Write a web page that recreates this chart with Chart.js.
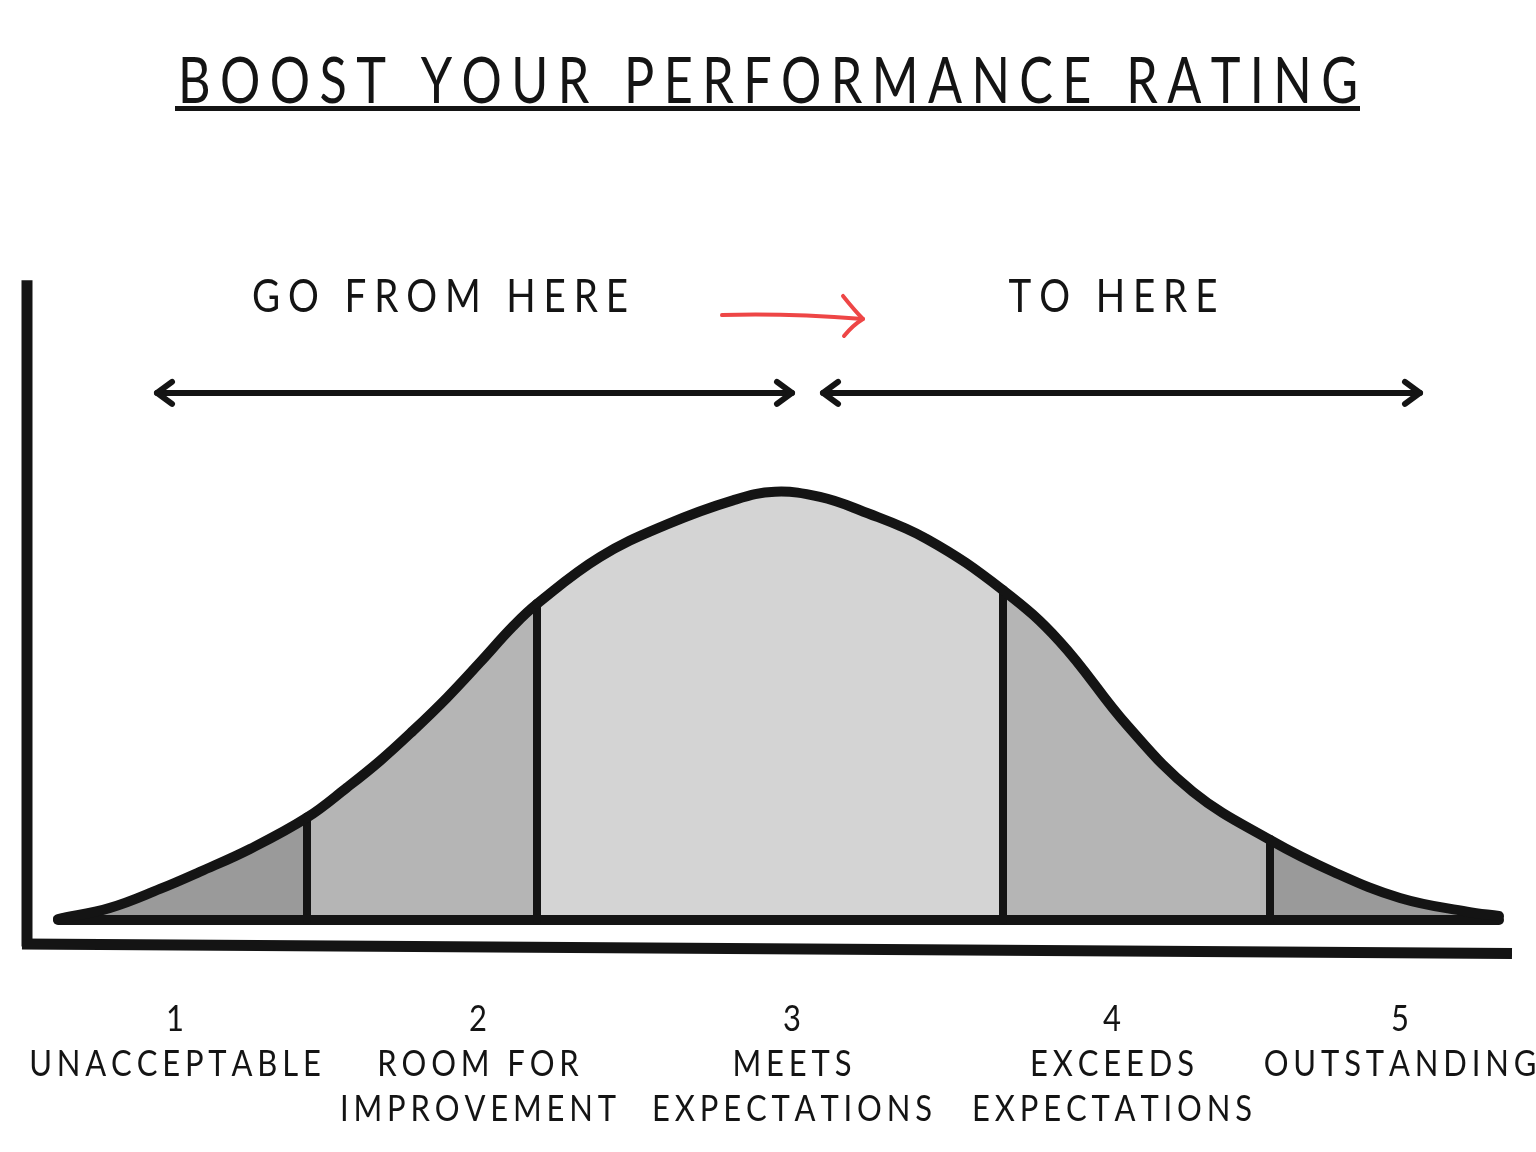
<!DOCTYPE html>
<html><head><meta charset="utf-8">
<script src="https://cdn.jsdelivr.net/npm/chart.js@4.4.1/dist/chart.umd.min.js"></script>
<style>html,body{margin:0;padding:0;background:#fff}#wrap{width:1536px;height:1152px;position:relative}</style>
</head><body><div id="wrap"><canvas id="c"></canvas></div>
<script>
// ---------- data ----------
const chartTitle = "BOOST YOUR PERFORMANCE RATING";
const categoryNumbers = ["1", "2", "3", "4", "5"];
const categoryNames = [["UNACCEPTABLE"], ["ROOM FOR", "IMPROVEMENT"], ["MEETS", "EXPECTATIONS"], ["EXCEEDS", "EXPECTATIONS"], ["OUTSTANDING"]];
const categoryPositions = [175, 478, 792, 1112, 1400];
const curveX = [58, 110, 160, 200, 250, 307, 347, 380, 413, 447, 480, 513, 537, 600, 667, 733, 775, 820, 860, 927, 1003, 1060, 1127, 1193, 1270, 1333, 1400, 1467, 1499];
const curveY = [0.2, 2.8, 7.2, 11.2, 16.5, 23.8, 30.8, 37.0, 44.0, 51.7, 59.9, 68.3, 73.5, 84.4, 92.0, 97.6, 99.6, 98.4, 95.3, 88.6, 76.7, 64.7, 45.3, 29.8, 18.6, 11.2, 5.1, 1.9, 0.9];
const dividerX = [307, 537, 1003, 1270];
const spanLabels = ["GO FROM HERE", "TO HERE"];
const spanLabelX = [440, 1113];
const spanLabelY = 145.3;
const spanStartX = [157, 823];
const spanEndX = [792, 1420];
const spanY = 122.6;
const moveArrowX = [722, 783, 863];
const moveArrowY = [140.7, 141.2, 139.8];
const yAxisX = [27, 27];
const yAxisY = [148.8, -6.2];
const xAxisX = [22, 1512];
const xAxisY = [-5.6, -7.8];

// ---------- style ----------
const INK = '#141414';
const RED = '#ee4646';
const regionColors = ['#9a9a9a', '#b5b5b5', '#d4d4d4', '#b5b5b5', '#9a9a9a'];
const FONT = 'Lato, "Open Sans", "Noto Sans", sans-serif';

const pts = (xs, ys) => xs.map((x, i) => ({x, y: ys[i]}));
const curve = pts(curveX, curveY);
const regionOf = xv => dividerX.filter(d => xv >= d).length;

const datasets = [];
datasets.push({
  data: curve, borderColor: INK, borderWidth: 10, pointRadius: 0,
  fill: 'origin', backgroundColor: regionColors[0],
  tension: 0.4, borderCapStyle: 'round', borderJoinStyle: 'round',
  segment: {backgroundColor: c => regionColors[regionOf(curveX[c.p0DataIndex])]}
});
dividerX.forEach(dx => {
  const top = curveY[curveX.indexOf(dx)];
  datasets.push({data: [{x: dx, y: 0}, {x: dx, y: top}], borderColor: INK, borderWidth: 8, pointRadius: 0, fill: false, borderCapStyle: 'round'});
});
datasets.push({data: [{x: curveX[0], y: 0}, {x: curveX[curveX.length - 1], y: 0}], borderColor: INK, borderWidth: 10, pointRadius: 0, fill: false, borderCapStyle: 'round'});
datasets.push({data: pts(yAxisX, yAxisY), borderColor: INK, borderWidth: 11, pointRadius: 0, fill: false, borderCapStyle: 'butt'});
datasets.push({data: pts(xAxisX, xAxisY), borderColor: INK, borderWidth: 11, pointRadius: 0, fill: false, borderCapStyle: 'butt'});

// text helpers
function charWidths(ctx, t, sx, spaceW) { return [...t].map(ch => ch === ' ' && spaceW != null ? spaceW : ctx.measureText(ch).width * sx); }
function fitSpacing(ctx, t, target, sx, spaceW) {
  const w = charWidths(ctx, t, sx, spaceW).reduce((a, b) => a + b, 0);
  return (target - w) / (t.length - 1);
}
function drawSpaced(ctx, t, cx, baseline, spacing, sx, spaceW) {
  const ws = charWidths(ctx, t, sx, spaceW);
  const total = ws.reduce((a, b) => a + b, 0) + spacing * (t.length - 1);
  let x = cx - total / 2;
  ctx.textAlign = 'left'; ctx.textBaseline = 'alphabetic';
  [...t].forEach((ch, i) => {
    if (ch !== ' ') { ctx.save(); ctx.translate(x, baseline); ctx.scale(sx, 1); ctx.fillText(ch, 0, 0); ctx.restore(); }
    x += ws[i] + spacing;
  });
}
function chevron(ctx, tx, ty, dir, len, half) {
  ctx.beginPath();
  ctx.moveTo(tx - dir * len, ty - half);
  ctx.lineTo(tx, ty);
  ctx.lineTo(tx - dir * len, ty + half);
  ctx.stroke();
}

const decor = {
  id: 'decor',
  afterDraw(chart) {
    const {ctx, scales: {x, y}} = chart;
    ctx.save();
    ctx.fillStyle = INK;
    // title
    ctx.font = `400 63px ${FONT}`;
    const sq1 = 0.8, spc1 = 16;
    drawSpaced(ctx, chartTitle, 768, 103, fitSpacing(ctx, chartTitle, 1180, sq1, spc1), sq1, spc1);
    ctx.fillRect(175, 106, 1185, 5);
    // span labels
    ctx.font = `400 47px ${FONT}`;
    const sq2 = 0.82;
    const sp2 = fitSpacing(ctx, spanLabels[0], 376, sq2);
    spanLabels.forEach((t, i) => drawSpaced(ctx, t, x.getPixelForValue(spanLabelX[i]), y.getPixelForValue(spanLabelY) + 17, sp2, sq2));
    // span arrows
    ctx.strokeStyle = INK; ctx.lineWidth = 6; ctx.lineCap = 'round'; ctx.lineJoin = 'round';
    const ay = y.getPixelForValue(spanY);
    for (let i = 0; i < 2; i++) {
      const a = x.getPixelForValue(spanStartX[i]), b = x.getPixelForValue(spanEndX[i]);
      ctx.beginPath(); ctx.moveTo(a, ay); ctx.lineTo(b, ay); ctx.stroke();
      chevron(ctx, a, ay, -1, 15, 11);
      chevron(ctx, b, ay, 1, 15, 11);
    }
    // move arrow (red)
    ctx.strokeStyle = RED; ctx.lineWidth = 4;
    const mx = moveArrowX.map(v => x.getPixelForValue(v));
    const my = moveArrowY.map(v => y.getPixelForValue(v));
    ctx.beginPath(); ctx.moveTo(mx[0], my[0]);
    ctx.quadraticCurveTo(mx[1], my[1], mx[2], my[2]); ctx.stroke();
    ctx.beginPath();
    ctx.moveTo(mx[2] - 20, my[2] - 23);
    ctx.quadraticCurveTo(mx[2] - 8, my[2] - 8, mx[2], my[2]);
    ctx.quadraticCurveTo(mx[2] - 10, my[2] + 6, mx[2] - 19, my[2] + 17);
    ctx.stroke();
    // category labels
    ctx.font = `400 36px ${FONT}`;
    const sq3 = 0.86;
    const sp3 = fitSpacing(ctx, "EXPECTATIONS", 280, sq3);
    const base = y.getPixelForValue(0);
    categoryPositions.forEach((cx, i) => {
      const px = x.getPixelForValue(cx);
      drawSpaced(ctx, categoryNumbers[i], px, base + 111, 0, sq3);
      categoryNames[i].forEach((line, j) => drawSpaced(ctx, line, px, base + 156 + 45 * j, sp3, sq3, 8));
    });
    ctx.restore();
  }
};

new Chart(document.getElementById('c'), {
  type: 'line',
  data: {datasets},
  options: {
    responsive: true, maintainAspectRatio: false, animation: false,
    layout: {padding: 0},
    scales: {
      x: {type: 'linear', min: 0, max: 1536, display: false},
      y: {type: 'linear', min: -54, max: 214, display: false}
    },
    plugins: {legend: {display: false}, tooltip: {enabled: false}, title: {display: false}, filler: {drawTime: 'beforeDatasetsDraw'}}
  },
  plugins: [decor]
});
</script></body></html>
